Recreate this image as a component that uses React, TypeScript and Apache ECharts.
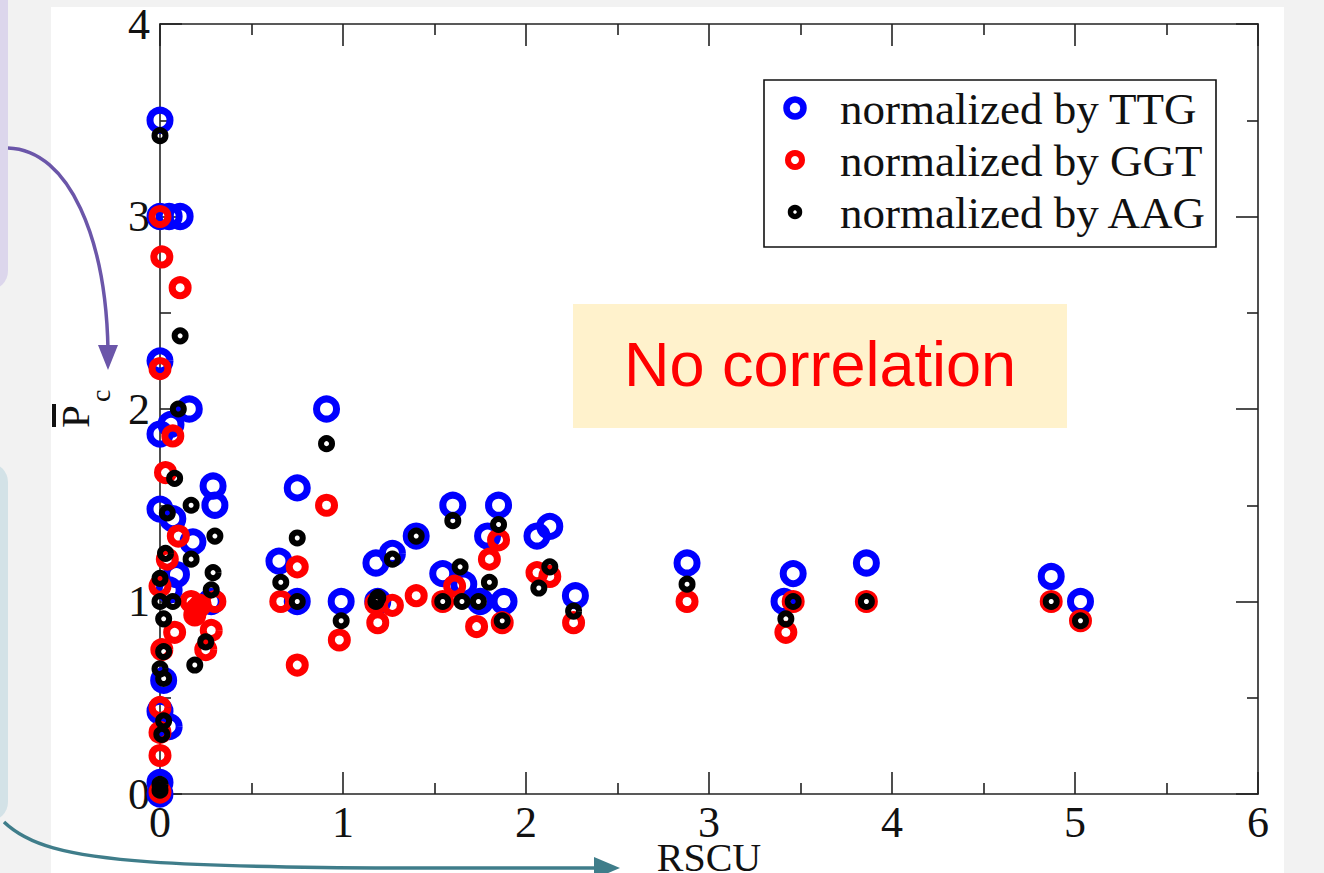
import React, { useEffect, useRef } from "react";
import * as echarts from "echarts";

// normalized by TTG (blue)
const ttgPoints: [number, number][] = [
  [0, 3.5], [0, 3.0], [0.05, 3.0], [0.11, 3.0], [0, 2.25], [0.16, 2.0], [0, 1.87], [0.06, 1.92],
  [0.29, 1.6], [0.3, 1.5], [0, 1.48], [0.07, 1.43], [0.18, 1.31], [0.09, 1.14], [0.05, 1.06],
  [0.28, 1.0], [0.02, 0.59], [0, 0.43], [0.05, 0.35], [0, 0.06], [0, 0.0],
  [0.65, 1.21], [0.75, 1.59], [0.75, 1.0], [0.91, 2.0], [0.99, 1.0], [1.18, 1.2], [1.27, 1.25],
  [1.4, 1.34], [1.19, 1.0], [1.6, 1.5], [1.545, 1.145], [1.66, 1.09], [1.75, 1.0], [1.85, 1.5],
  [1.79, 1.34], [1.88, 1.0], [2.06, 1.34], [2.13, 1.39], [2.27, 1.03], [2.88, 1.2], [3.41, 1.0],
  [3.46, 1.145], [3.86, 1.2], [4.87, 1.13], [5.03, 1.0],
];

// normalized by GGT (red)
const ggtPoints: [number, number][] = [
  [0, 3.0], [0.01, 2.79], [0.11, 2.63], [0, 2.21], [0.07, 1.86], [0.03, 1.67], [0.1, 1.34],
  [0.04, 1.22], [0, 1.08], [0.17, 1.0], [0.2, 0.96], [0.22, 0.98], [0.19, 0.93], [0.3, 1.0],
  [0.08, 0.84], [0.28, 0.85], [0.25, 0.75], [0.01, 0.75], [0, 0.45], [0, 0.32], [0, 0.2], [0, 0.01],
  [0.66, 1.0], [0.75, 1.18], [0.75, 0.67], [0.91, 1.5], [0.98, 0.8], [1.18, 0.99], [1.27, 0.98],
  [1.19, 0.89], [1.4, 1.03], [1.545, 1.0], [1.61, 1.08], [1.73, 0.87], [1.8, 1.22], [1.85, 1.32],
  [1.87, 0.89], [2.06, 1.15], [2.13, 1.13], [2.26, 0.89], [2.88, 1.0], [3.46, 1.0], [3.42, 0.84],
  [3.86, 1.0], [4.87, 1.0], [5.03, 0.9],
];

// normalized by AAG (black)
const aagPoints: [number, number][] = [
  [0, 3.42], [0.11, 2.38], [0.1, 2.0], [0.08, 1.64], [0.17, 1.5], [0.04, 1.46], [0.3, 1.34],
  [0.03, 1.25], [0.17, 1.22], [0.29, 1.15], [0, 1.12], [0.28, 1.06], [0, 1.0], [0.07, 1.0],
  [0.02, 0.91], [0.02, 0.74], [0, 0.65], [0.02, 0.6], [0.25, 0.79], [0.19, 0.67], [0.02, 0.38],
  [0.01, 0.31], [0, 0.05], [0, 0.02], [0.66, 1.1], [0.75, 1.33], [0.75, 1.0], [0.91, 1.82],
  [0.99, 0.9], [1.18, 1.0], [1.19, 1.02], [1.27, 1.22], [1.4, 1.34], [1.6, 1.42], [1.64, 1.18],
  [1.545, 1.0], [1.65, 1.0], [1.74, 1.0], [1.8, 1.1], [1.85, 1.4], [1.87, 0.9], [2.07, 1.07],
  [2.13, 1.18], [2.26, 0.95], [2.88, 1.09], [3.42, 0.91], [3.46, 1.0], [3.86, 1.0], [4.87, 1.0],
  [5.03, 0.9],
];

const seriesNames = ["normalized by TTG", "normalized by GGT", "normalized by AAG"];
const seriesColors = ["#0000ff", "#ff0000", "#000000"];
const xRange = [0, 6];
const yRange = [0, 4];
const xAxisName = "RSCU";
const annotationText = "No correlation";

const SERIF = "'Liberation Serif', 'Times New Roman', serif";
const SANS = "'Liberation Sans', Arial, sans-serif";

export default function App() {
  const ref = useRef<HTMLDivElement>(null);

  useEffect(() => {
    if (!ref.current) return;
    const chart = echarts.init(ref.current, null, { renderer: "svg" });

    const axisLineStyle = { color: "#222", width: 1.6 };
    const tickCommon = {
      axisTick: { show: true, inside: true, length: 22, lineStyle: axisLineStyle },
      minorTick: { show: true, splitNumber: 2, length: 11, lineStyle: axisLineStyle },
      splitLine: { show: false },
      minorSplitLine: { show: false },
      axisLine: { show: true, onZero: false, lineStyle: axisLineStyle },
    };

    const sizes = [20, 16, 11];
    const borders = [7, 7, 6];
    const data = [ttgPoints, ggtPoints, aagPoints];

    const legendX = 764, legendY = 80, legendW = 452, legendH = 167;
    const rowY = [108, 160, 212];

    const option: any = {
      animation: false,
      backgroundColor: "#f2f2f2",
      grid: { left: 160, top: 24, right: 66, bottom: 79, containLabel: false, outerBoundsMode: "none" },
      xAxis: [
        {
          type: "value", position: "bottom", min: xRange[0], max: xRange[1], interval: 1,
          ...tickCommon,
          axisLabel: { show: true, margin: 9, fontFamily: SERIF, fontSize: 44, lineHeight: 38, color: "#111" },
          name: xAxisName, nameLocation: "middle", nameGap: 82, nameMoveOverlap: false,
          nameTextStyle: { fontFamily: SERIF, fontSize: 40, color: "#111", verticalAlign: "bottom", lineHeight: 38 },
        },
        {
          type: "value", position: "top", min: xRange[0], max: xRange[1], interval: 1,
          ...tickCommon,
          axisLabel: { show: false },
        },
      ],
      yAxis: [
        {
          type: "value", position: "left", min: yRange[0], max: yRange[1], interval: 1,
          ...tickCommon,
          axisLabel: { show: true, margin: 10, fontFamily: SERIF, fontSize: 44, color: "#111" },
        },
        {
          type: "value", position: "right", min: yRange[0], max: yRange[1], interval: 1,
          ...tickCommon,
          axisLabel: { show: false },
        },
      ],
      series: data.map((d, i) => ({
        name: seriesNames[i],
        type: "scatter",
        xAxisIndex: 0,
        yAxisIndex: 0,
        data: d,
        symbol: "circle",
        symbolSize: sizes[i],
        clip: false,
        z: 3 + i,
        itemStyle: { color: "rgba(0,0,0,0)", borderColor: seriesColors[i], borderWidth: borders[i], opacity: 1 },
      })),
      graphic: [
        // slide panels
        { type: "rect", z: -10, shape: { x: 51, y: 7, width: 1233, height: 880 }, style: { fill: "#ffffff" }, silent: true },
        { type: "rect", z: -10, shape: { x: -30, y: -20, width: 38, height: 310, r: 20 }, style: { fill: "#dcd6ec" }, silent: true },
        { type: "rect", z: -10, shape: { x: -30, y: 463, width: 38, height: 358, r: 20 }, style: { fill: "#d3e2e7" }, silent: true },
        // annotation
        { type: "rect", z: 20, shape: { x: 573, y: 304, width: 494, height: 124 }, style: { fill: "#fff2cc" } },
        {
          type: "text", z: 21, x: 820, y: 364,
          style: { text: annotationText, fill: "#ff0000", font: `63px ${SANS}`, align: "center", verticalAlign: "middle" },
        },
        // legend
        {
          type: "rect", z: 20, shape: { x: legendX, y: legendY, width: legendW, height: legendH },
          style: { fill: "#ffffff", stroke: "#111", lineWidth: 1.6 },
        },
        ...seriesNames.flatMap((name, i) => [
          {
            type: "circle", z: 21, shape: { cx: 795, cy: rowY[i], r: [8.5, 7, 4.5][i] },
            style: { fill: "none", stroke: seriesColors[i], lineWidth: [6.5, 6, 5.5][i] },
          },
          {
            type: "text", z: 21, x: 840, y: rowY[i] + 1,
            style: { text: name, fill: "#111", font: `45px ${SERIF}`, align: "left", verticalAlign: "middle" },
          },
        ]),
        // y-axis name: P-bar with subscript c, rotated
        {
          type: "group", z: 20, x: 88, y: 428, rotation: Math.PI / 2,
          children: [
            { type: "rect", shape: { x: 1, y: -36, width: 23, height: 4 }, style: { fill: "#111" } },
            { type: "text", x: 0, y: -13, style: { text: "P", fill: "#111", font: `41px ${SERIF}`, align: "left", verticalAlign: "middle" } },
            { type: "text", x: 26, y: 12, style: { text: "c", fill: "#111", font: `28px ${SERIF}`, align: "left", verticalAlign: "middle" } },
          ],
        },
        // purple arrow
        {
          type: "bezierCurve", z: 30,
          shape: { x1: 8, y1: 148, cpx1: 70, cpy1: 150, cpx2: 106, cpy2: 240, x2: 108, y2: 350 },
          style: { stroke: "#6b56a9", lineWidth: 3.5, fill: "none" },
        },
        {
          type: "polygon", z: 30, shape: { points: [[98, 345], [118, 345], [108, 370]] },
          style: { fill: "#6b56a9" },
        },
        // teal arrow
        {
          type: "bezierCurve", z: 30,
          shape: { x1: 4, y1: 822, cpx1: 50, cpy1: 866, cpx2: 150, cpy2: 869, x2: 596, y2: 868 },
          style: { stroke: "#3f7d8a", lineWidth: 3.5, fill: "none" },
        },
        {
          type: "polygon", z: 30, shape: { points: [[594, 857], [594, 879], [620, 868]] },
          style: { fill: "#3f7d8a" },
        },
      ],
    };

    chart.setOption(option);
    return () => chart.dispose();
  }, []);

  return (
    <div
      ref={ref}
      style={{ position: "fixed", left: 0, top: 0, width: 1324, height: 873, background: "#f2f2f2" }}
    />
  );
}
